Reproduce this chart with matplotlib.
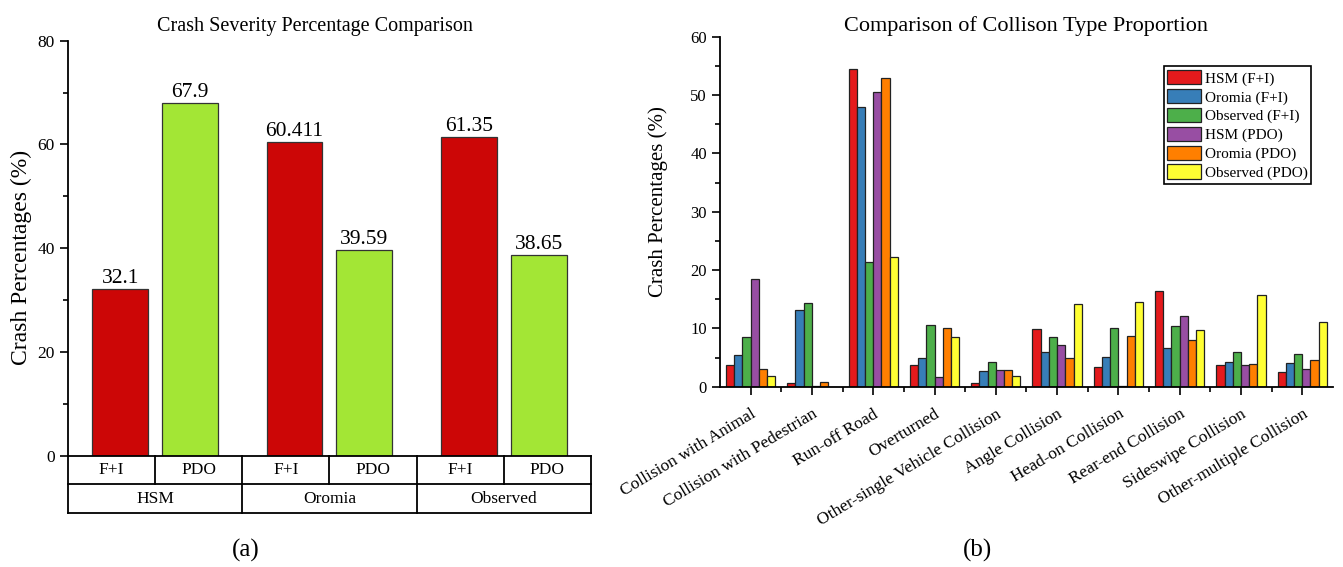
import numpy as np
import matplotlib
matplotlib.use("Agg")
import matplotlib.pyplot as plt

plt.rcParams['font.family'] = ['Liberation Serif', 'DejaVu Serif']

# (a) crash severity
groups = ['HSM', 'Oromia', 'Observed']
severity = ['F+I', 'PDO']
fi_pct = [32.1, 60.411, 61.35]
pdo_pct = [67.9, 39.59, 38.65]

# (b) collision type proportions
collision_types = ['Collision with Animal', 'Collision with Pedestrian', 'Run-off Road',
                   'Overturned', 'Other-single Vehicle Collision', 'Angle Collision',
                   'Head-on Collision', 'Rear-end Collision', 'Sideswipe Collision',
                   'Other-multiple Collision']
series_names = ['HSM (F+I)', 'Oromia (F+I)', 'Observed (F+I)',
                'HSM (PDO)', 'Oromia (PDO)', 'Observed (PDO)']
hsm_fi = [3.8, 0.7, 54.5, 3.8, 0.7, 9.9, 3.4, 16.4, 3.7, 2.6]
oromia_fi = [5.5, 13.2, 47.9, 4.9, 2.7, 6.0, 5.1, 6.6, 4.2, 4.1]
obs_fi = [8.6, 14.3, 21.4, 10.6, 4.3, 8.5, 10.1, 10.4, 6.0, 5.6]
hsm_pdo = [18.4, 0.1, 50.5, 1.6, 2.9, 7.1, 0.2, 12.1, 3.7, 3.0]
oromia_pdo = [3.1, 0.8, 52.9, 10.1, 2.8, 5.0, 8.7, 8.0, 3.9, 4.6]
obs_pdo = [1.9, 0.0, 22.3, 8.6, 1.8, 14.1, 14.6, 9.7, 15.7, 11.1]

fig = plt.figure(figsize=(13.43, 5.67), dpi=100)

# ---------------- left panel ----------------
ax1 = fig.add_axes([0.0506, 0.1963, 0.3894, 0.732])
x = np.arange(len(groups))
b1 = ax1.bar(x - 0.2, fi_pct, 0.32, color='#CC0606', edgecolor='#333333', lw=0.9)
b2 = ax1.bar(x + 0.2, pdo_pct, 0.32, color='#A3E635', edgecolor='#333333', lw=0.9)
ax1.bar_label(b1, fmt='%g', padding=1, fontsize=15.5)
ax1.bar_label(b2, fmt='%g', padding=1, fontsize=15.5)
ax1.set_xlim(-0.5, 2.5)
ax1.set_ylim(0, 80)
ax1.set_yticks([0, 20, 40, 60, 80])
ax1.set_yticks([10, 30, 50, 70], minor=True)
ax1.set_xticks([])
ax1.tick_params(axis='y', which='major', direction='out', length=6, width=1.2, labelsize=12.5)
ax1.tick_params(axis='y', which='minor', direction='out', length=3.5, width=1.2)
for s in ['top', 'right']:
    ax1.spines[s].set_visible(False)
ax1.spines['left'].set_linewidth(1.3)
ax1.spines['bottom'].set_linewidth(1.3)
ax1.set_title('Crash Severity Percentage Comparison', fontsize=14.5, pad=7, x=0.472)
ax1.set_ylabel('Crash Percentages (%)', fontsize=17)
ax1.yaxis.set_label_coords(-0.068, 0.478)

# category table under the axis
tr = ax1.get_xaxis_transform()
row_h = 0.069
for yy in [-row_h, -2 * row_h]:
    ax1.plot([-0.5, 2.5], [yy, yy], color='black', lw=1.3, transform=tr, clip_on=False)
for xx in [-0.5, 0.5, 1.5, 2.5]:
    ax1.plot([xx, xx], [0, -2 * row_h], color='black', lw=1.3, transform=tr, clip_on=False)
for g in x:
    ax1.plot([g, g], [0, -row_h], color='black', lw=1.3, transform=tr, clip_on=False)
    for k, off in enumerate([-0.25, 0.25]):
        ax1.text(g + off, -row_h / 2, severity[k], transform=tr, ha='center', va='center',
                 fontsize=12.5)
    ax1.text(g, -1.5 * row_h, groups[g], transform=tr, ha='center', va='center', fontsize=12.5)

fig.text(0.183, 0.03, '(a)', ha='center', va='center', fontsize=18)

# ---------------- right panel ----------------
ax2 = fig.add_axes([0.5361, 0.318, 0.4564, 0.6173])
series = [hsm_fi, oromia_fi, obs_fi, hsm_pdo, oromia_pdo, obs_pdo]
colors = ['#E41A1C', '#377EB8', '#4DAF4A', '#984EA3', '#FF7F00', '#FFFF33']
xc = np.arange(len(collision_types))
w = 0.134
for i, (vals, c, name) in enumerate(zip(series, colors, series_names)):
    ax2.bar(xc + (i - 2.5) * w, vals, w, color=c, edgecolor='#222222', lw=0.9, label=name)
ax2.set_xlim(-0.5, 9.5)
ax2.set_ylim(0, 60)
ax2.set_yticks(np.arange(0, 61, 10))
ax2.set_yticks(np.arange(5, 60, 10), minor=True)
ax2.set_xticks(xc)
ax2.set_xticks(xc[:-1] + 0.5, minor=True)
ax2.set_xticklabels(collision_types, rotation=31, ha='right', rotation_mode='anchor')
ax2.tick_params(which='major', direction='out', length=6, width=1.2, labelsize=12)
ax2.tick_params(which='minor', direction='out', length=3.5, width=1.2)
ax2.tick_params(axis='x', which='major', labelsize=12.5, pad=8)
for s in ['top', 'right']:
    ax2.spines[s].set_visible(False)
ax2.spines['left'].set_linewidth(1.3)
ax2.spines['bottom'].set_linewidth(1.3)
ax2.set_title('Comparison of Collison Type Proportion', fontsize=16, pad=4)
ax2.set_ylabel('Crash Percentages (%)', fontsize=15)
ax2.yaxis.set_label_coords(-0.085, 0.528)
leg = ax2.legend(loc='upper right', bbox_to_anchor=(0.965, 0.915), fontsize=11,
                 handlelength=2.2, handleheight=1.05, labelspacing=0.22,
                 handletextpad=0.25, borderpad=0.25, borderaxespad=0,
                 fancybox=False, framealpha=1, edgecolor='black')
leg.get_frame().set_linewidth(1.2)

fig.text(0.728, 0.03, '(b)', ha='center', va='center', fontsize=18)

fig.savefig('out.png', dpi=100)
